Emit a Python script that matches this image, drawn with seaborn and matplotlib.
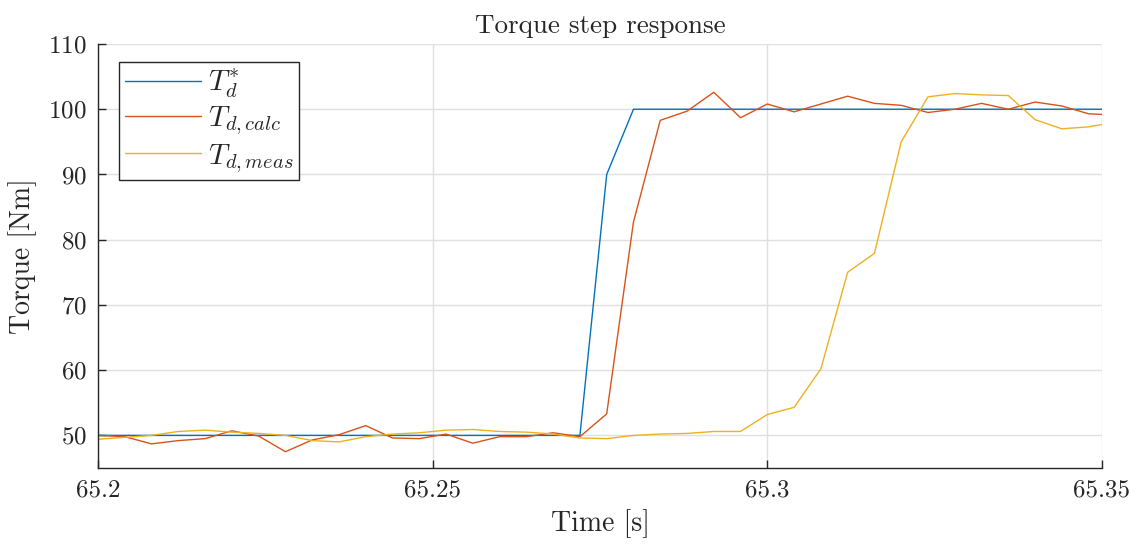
import numpy as np
import pandas as pd
import matplotlib
matplotlib.use("Agg")
import matplotlib.pyplot as plt
import seaborn as sns

t0 = 65.2
dt = 0.004
t_ref = [65.2, 65.272, 65.276, 65.28, 65.35]
T_ref = [50, 50, 90, 100, 100]
T_calc = [50.0, 49.8, 48.7, 49.2, 49.5, 50.7, 49.9, 47.5, 49.3, 50.1,
          51.5, 49.6, 49.5, 50.2, 48.8, 49.8, 49.8, 50.4, 49.8, 53.3,
          82.7, 98.3, 99.7, 102.6, 98.7, 100.8, 99.6, 100.8, 102.0, 100.9,
          100.6, 99.5, 100.0, 100.9, 100.0, 101.1, 100.5, 99.3, 99.1]
T_meas = [49.4, 49.7, 50.0, 50.6, 50.8, 50.5, 50.3, 50.0, 49.2, 49.0,
          49.8, 50.2, 50.4, 50.8, 50.9, 50.6, 50.5, 50.2, 49.6, 49.5,
          50.0, 50.2, 50.3, 50.6, 50.6, 53.2, 54.3, 60.2, 75.0, 77.9,
          95.0, 101.9, 102.4, 102.2, 102.1, 98.4, 97.0, 97.3, 98.0]
t_meas = [round(t0 + i * dt, 3) for i in range(len(T_meas))]

labels = [r"$T_d^{*}$", r"$T_{d,calc}$", r"$T_{d,meas}$"]
colors = ["#0072BD", "#D95319", "#EDB120"]

sns.set_style("whitegrid")
plt.rcParams["font.family"] = "serif"
plt.rcParams["font.serif"] = ["cmr10"]
plt.rcParams["mathtext.fontset"] = "cm"
plt.rcParams["axes.formatter.use_mathtext"] = True

df = pd.concat([
    pd.DataFrame({"t": t_ref, "T": T_ref, "s": labels[0]}),
    pd.DataFrame({"t": t_meas, "T": T_calc, "s": labels[1]}),
    pd.DataFrame({"t": t_meas, "T": T_meas, "s": labels[2]}),
])

fig = plt.figure(figsize=(11.37, 5.44), dpi=100)
ax = fig.add_axes([98/1137, 1 - 468/544, (1102-98)/1137, (468-44)/544])
sns.lineplot(data=df, x="t", y="T", hue="s", palette=colors, ax=ax,
             linewidth=1.0, estimator=None, sort=False)

ax.set_xlim(65.2, 65.35)
ax.set_ylim(45, 110)
ax.set_xticks([65.2, 65.25, 65.3, 65.35])
ax.set_xticklabels(["65.2", "65.25", "65.3", "65.35"])
ax.set_yticks(range(50, 111, 10))
ax.grid(True, color="#e0e0e0", linewidth=1.0)
for s in ["top", "right"]:
    ax.spines[s].set_visible(False)
for s in ["left", "bottom"]:
    ax.spines[s].set_color("#262626")
    ax.spines[s].set_linewidth(1.0)
ax.tick_params(direction="in", length=6, width=1, colors="#262626",
               labelsize=18, pad=8, bottom=True, left=True)
ax.set_xlabel("Time [s]", fontsize=20, labelpad=6)
ax.set_ylabel("Torque [Nm]", fontsize=20, labelpad=8)
ax.set_title("Torque step response", fontsize=19.5, pad=8)

leg = ax.legend(loc="upper left", fontsize=21, frameon=True, fancybox=False,
                edgecolor="#262626", framealpha=1, handlelength=2.6,
                borderpad=0.2, labelspacing=0.15, handletextpad=0.25,
                borderaxespad=0, bbox_to_anchor=(0.021, 0.958))
leg.get_frame().set_linewidth(1.0)

fig.savefig("out.png", dpi=100)
